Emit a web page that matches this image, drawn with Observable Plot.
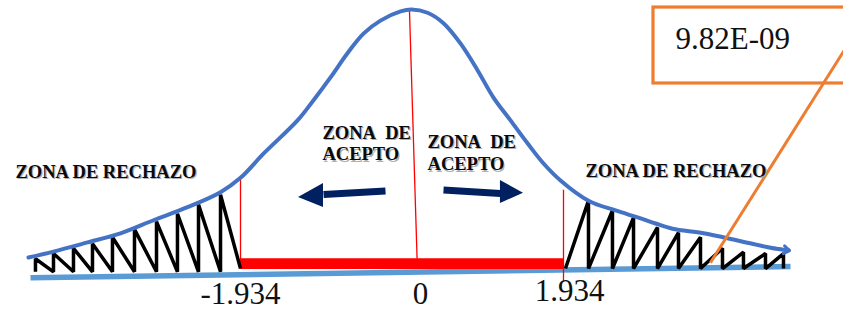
<!DOCTYPE html>
<html>
<head>
<meta charset="utf-8">
<script src="https://cdn.jsdelivr.net/npm/d3@7"></script>
<script src="https://cdn.jsdelivr.net/npm/@observablehq/plot@0.6"></script>
<style>
  html, body { margin: 0; padding: 0; background: #fff; overflow: hidden; }
  #chart svg { display: block; background: #fff; }
</style>
</head>
<body>
<div id="chart"></div>
<script>
// ---- data (t units on x, density units on y) ----
const curveT = [-4.332,-4.049,-3.664,-3.291,-2.918,-2.533,-2.160,-1.934,-1.674,-1.289,-1.108,-0.916,-0.724,-0.543,-0.351,-0.124,0,0.204,0.407,0.623,0.840,1.043,1.260,1.476,1.680,1.896,2.252,2.596,2.888,3.105,3.321,3.715,4.148,4.568,4.797];
const curveY = [0.020,0.029,0.043,0.057,0.077,0.097,0.120,0.142,0.179,0.230,0.261,0.296,0.333,0.363,0.383,0.397,0.400,0.395,0.379,0.348,0.307,0.265,0.230,0.195,0.164,0.138,0.107,0.092,0.081,0.072,0.064,0.057,0.046,0.035,0.031];

const baseT = [-4.309, 4.822];
const baseY = [-0.011, 0.006];

const critical = [-1.934, 1.934];

const leftTeethT   = [-4.253,-4.049,-3.823,-3.608,-3.382,-3.133,-2.884,-2.647,-2.409,-2.160];
const leftTeethTop = [0.018,0.026,0.034,0.041,0.051,0.063,0.075,0.087,0.101,0.116];
const leftBottom = -0.002;

const rightStartT   = 1.959;
const rightTeethT   = [2.252,2.557,2.825,3.130,3.397,3.677,3.957,4.224,4.504,4.733];
const rightTeethTop = [0.107,0.092,0.081,0.066,0.058,0.051,0.034,0.028,0.026,0.026];
const rightBottom = 0.003;

const tickValues = [-1.934, 0, 1.934];
const tickLabels = ["-1.934", "0", "1.934"];

const zoneLabels = ["ZONA DE RECHAZO", "ZONA\u00a0 DE\nACEPTO"];
const pValue = "9.82E-09";

// ---- derived tables ----
const curve = curveT.map((t, i) => ({t, y: curveY[i]}));
const baseline = baseT.map((t, i) => ({t, y: baseY[i]}));

const leftZig = [];
leftTeethT.forEach((t, i) => { leftZig.push({t, y: leftBottom}); leftZig.push({t, y: leftTeethTop[i]}); });
leftZig.push({t: critical[0], y: 0.003});

const rightZig = [{t: rightStartT, y: rightBottom}];
rightTeethT.forEach((t, i) => { rightZig.push({t, y: rightTeethTop[i]}); rightZig.push({t, y: rightBottom}); });

const serif = "Liberation Serif";
const blue = "#4472C4", lightBlue = "#5B9BD5", red = "#FF0000", navy = "#002060", orange = "#ED7D31";

// the hand-drawn left half is a little wider than the right half
const leftStretch = 1.125;

const zoneSpecs = [
  {x: -4.479, y: 0.1425, text: zoneLabels[0], lh: 1},
  {x: 2.214, y: 0.144, text: zoneLabels[0], lh: 1},
  {x: -1.007, y: 0.1686, text: zoneLabels[1], lh: 1.17},
  {x: 0.204, y: 0.1533, text: zoneLabels[1], lh: 1.22}
];
const zoneMarks = zoneSpecs.flatMap((s) => [
  Plot.text([0], {x: s.x, y: s.y, dx: 1.2, dy: 1.2, text: [s.text], textAnchor: "start", lineAnchor: "bottom", lineHeight: s.lh, fontFamily: serif, fontWeight: 700, fontSize: 18.5, fill: "#b0b0b0"}),
  Plot.text([0], {x: s.x, y: s.y, text: [s.text], textAnchor: "start", lineAnchor: "bottom", lineHeight: s.lh, fontFamily: serif, fontWeight: 700, fontSize: 18.5, fill: "#0a0a0a"})
]);

const chart = Plot.plot({
  width: 843,
  height: 310,
  margin: 0,
  x: {type: "linear", transform: (t) => (t < 0 ? t * leftStretch : t), domain: [critical[0] * leftStretch, critical[1]], range: [240, 563], axis: null},
  y: {domain: [0, 0.4], range: [270, 9], axis: null},
  marks: [
    // callout box
    Plot.rect([0], {x1: 3.079, x2: 6.2, y1: 0.2866, y2: 0.403, fill: "none", stroke: orange, strokeWidth: 3.2, clip: true}),
    // baseline
    Plot.line(baseline, {x: "t", y: "y", stroke: lightBlue, strokeWidth: 5.5, strokeLinecap: "butt"}),
    // acceptance bar
    Plot.rect([0], {x1: critical[0], x2: critical[1], y1: 0.0015, y2: 0.018, fill: red}),
    // critical lines
    Plot.ruleX([critical[0]], {y1: 0.003, y2: 0.142, stroke: red, strokeWidth: 1.3}),
    Plot.ruleX([critical[1]], {y1: -0.018, y2: 0.123, stroke: red, strokeWidth: 1.3}),
    Plot.link([0], {x1: -0.023, y1: 0.399, x2: 0.071, y2: 0.018, stroke: red, strokeWidth: 1.3}),
    // rejection hatching
    Plot.line(leftZig, {x: "t", y: "y", stroke: "black", strokeWidth: 3.5, strokeLinejoin: "miter", strokeLinecap: "butt"}),
    Plot.line(rightZig, {x: "t", y: "y", stroke: "black", strokeWidth: 3.5, strokeLinejoin: "miter", strokeLinecap: "butt"}),
    // distribution curve
    Plot.line(curve, {x: "t", y: "y", curve: "catmull-rom", stroke: blue, strokeWidth: 4}),
    Plot.arrow([0], {x1: 4.55, y1: 0.0355, x2: 4.81, y2: 0.0305, stroke: blue, strokeWidth: 3, headLength: 12, headAngle: 70}),
    // leader line
    Plot.link([0], {x1: 3.804, y1: 0.012, x2: 5.713, y2: 0.377, stroke: orange, strokeWidth: 3, clip: true}),
    // direction arrows
    Plot.link([0], {x1: -0.294, y1: 0.1218, x2: -0.995, y2: 0.1165, stroke: navy, strokeWidth: 7, strokeLinecap: "butt"}),
    Plot.areaY([{t: -0.995, a: 0.1333, b: 0.0966}, {t: -1.278, a: 0.1119, b: 0.1119}], {x: "t", y1: "a", y2: "b", fill: navy}),
    Plot.link([0], {x1: 0.407, y1: 0.1234, x2: 1.132, y2: 0.118, stroke: navy, strokeWidth: 7, strokeLinecap: "butt"}),
    Plot.areaY([{t: 1.132, a: 0.1379, b: 0.1027}, {t: 1.425, a: 0.1185, b: 0.1185}], {x: "t", y1: "a", y2: "b", fill: navy}),
    // zone labels
    ...zoneMarks,
    // p-value
    Plot.text([0], {x: 3.359, y: 0.3387, text: [pValue], textAnchor: "start", lineAnchor: "bottom", fontFamily: serif, fontSize: 31, fill: "#111"}),
    // tick labels
    Plot.text([0], {x: tickValues[0], y: -0.051, text: [tickLabels[0]], textAnchor: "middle", lineAnchor: "bottom", fontFamily: serif, fontSize: 31, fill: "#111"}),
    Plot.text([0], {x: tickValues[1], y: -0.051, dx: 9, text: [tickLabels[1]], textAnchor: "middle", lineAnchor: "bottom", fontFamily: serif, fontSize: 31, fill: "#111"}),
    Plot.text([0], {x: tickValues[2], y: -0.047, dx: 6, text: [tickLabels[2]], textAnchor: "middle", lineAnchor: "bottom", fontFamily: serif, fontSize: 31, fill: "#111"})
  ]
});
document.getElementById("chart").appendChild(chart);
</script>
</body>
</html>
